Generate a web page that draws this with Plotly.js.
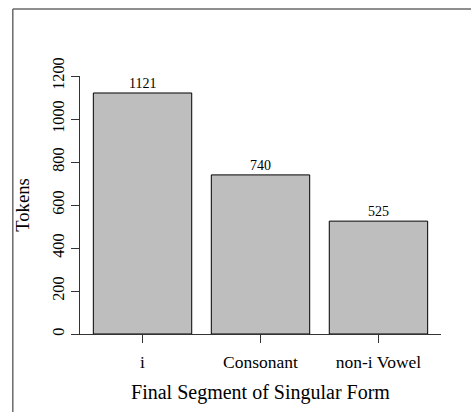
<!DOCTYPE html>
<html>
<head>
<meta charset="utf-8">
<script src="https://cdn.plot.ly/plotly-3.0.1.min.js"></script>
<style>
  html, body { margin: 0; padding: 0; background: #fff; }
  #chart { width: 471px; height: 412px; }
</style>
</head>
<body>
<div id="chart"></div>
<script>
// ---- data ----
const categories = ['i', 'Consonant', 'non-i Vowel'];
const tokens = [1121, 740, 525];
const yTickVals = [0, 200, 400, 600, 800, 1000, 1200];
const yTickText = ['0', '200', '400', '600', '800', '1000', '1200'];
const xTitle = 'Final Segment of Singular Form';
const yTitle = 'Tokens';

// ---- geometry ----
const W = 471, H = 412;
const M = { l: 80, r: 30, t: 76, b: 78 };
const plotW = W - M.l - M.r, plotH = H - M.t - M.b;
const px2x = p => (p - M.l) / plotW;
const px2y = p => (H - M.b - p) / plotH;
const serif = 'Liberation Serif, Times New Roman, serif';

const frameLeft = 12.8, frameTop = 8.9;
const shapes = [
  { type: 'line', xref: 'paper', yref: 'paper',
    x0: px2x(frameLeft), x1: px2x(W + 10), y0: px2y(frameTop), y1: px2y(frameTop),
    line: { color: '#6a6a6a', width: 1.5 } },
  { type: 'line', xref: 'paper', yref: 'paper',
    x0: px2x(frameLeft), x1: px2x(frameLeft), y0: px2y(frameTop), y1: px2y(H + 10),
    line: { color: '#6a6a6a', width: 1.5 } }
];

const annotations = categories.map((c, i) => ({
  x: c, y: tokens[i], xref: 'x', yref: 'y',
  text: String(tokens[i]), showarrow: false,
  yanchor: 'bottom', xanchor: 'center', yshift: 0,
  font: { family: serif, size: 14, color: '#000' }
}));

const trace = {
  type: 'bar',
  x: categories,
  y: tokens,
  marker: { color: '#bebebe', line: { color: '#000', width: 1 } },
  hoverinfo: 'none',
  cliponaxis: false
};

const layout = {
  width: W, height: H,
  margin: M,
  paper_bgcolor: '#fff', plot_bgcolor: '#fff',
  showlegend: false,
  bargap: 0.166,
  font: { family: serif, color: '#000' },
  xaxis: {
    type: 'category',
    range: [-0.53, 2.53],
    showgrid: false, zeroline: false,
    showline: true, linecolor: '#333', linewidth: 1,
    ticks: 'outside', ticklen: 8, tickcolor: '#333', tickwidth: 1,
    tickfont: { family: serif, size: 17.5, color: '#000' },
    ticklabelstandoff: 4,
    title: { text: xTitle, font: { family: serif, size: 20, color: '#000' }, standoff: 13 },
    automargin: false, fixedrange: true
  },
  yaxis: {
    range: [0, 1200],
    tickmode: 'array', tickvals: yTickVals, ticktext: yTickText,
    tickangle: -90,
    showgrid: false, zeroline: false,
    showline: true, linecolor: '#333', linewidth: 1,
    ticks: 'outside', ticklen: 8, tickcolor: '#333', tickwidth: 1,
    tickfont: { family: serif, size: 16.3, color: '#000' },
    ticklabelstandoff: 0,
    title: { text: yTitle, font: { family: serif, size: 18.7, color: '#000' }, standoff: 14 },
    automargin: false, fixedrange: true
  },
  shapes: shapes,
  annotations: annotations
};

Plotly.newPlot('chart', [trace], layout, { staticPlot: true, displayModeBar: false });
</script>
</body>
</html>
